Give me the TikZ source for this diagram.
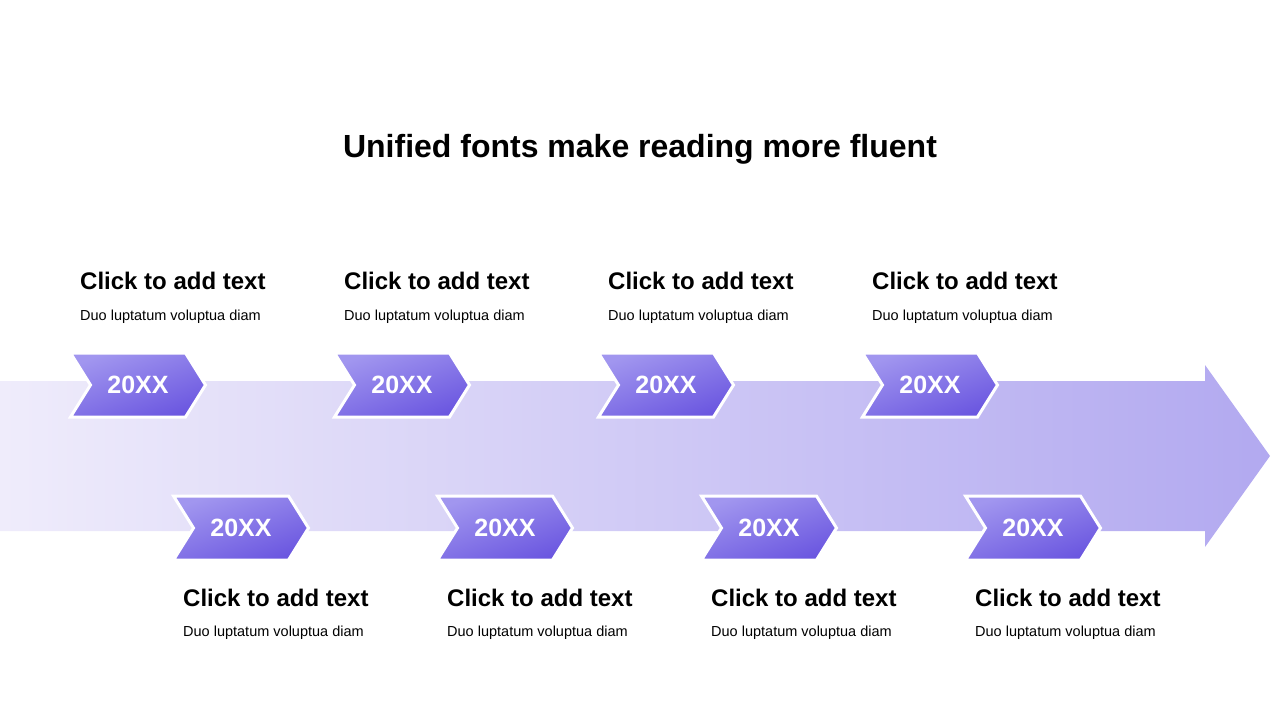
\documentclass[tikz,border=0pt]{standalone}
\usepackage{fontspec}
\setmainfont{Liberation Sans}
\usetikzlibrary{shapes.symbols}

\definecolor{arrowlight}{HTML}{EFECFB}
\definecolor{arrowdark}{HTML}{B2A9F0}
\definecolor{chevlight}{HTML}{A196EF}
\definecolor{chevdark}{HTML}{6B57E0}

\tikzset{
  yearbox/.style={signal, signal from=west, signal to=east, signal pointer angle=116,
    draw=white, line width=3pt, top color=chevlight, bottom color=chevdark, shading angle=20,
    minimum width=135pt, minimum height=64pt, inner sep=0pt, text=white,
    font=\fontsize{25}{30}\selectfont\bfseries},
  headtext/.style={anchor=base west, inner sep=0pt, font=\fontsize{24}{28}\selectfont\bfseries},
  subtext/.style={anchor=base west, inner sep=0pt, font=\fontsize{14.5}{17}\selectfont}
}

\begin{document}
\begin{tikzpicture}[x=1pt, y=-1pt]
    \useasboundingbox (0,0) rectangle (1280,720);

    % Title
    \node[anchor=base, font=\fontsize{32}{38}\selectfont\bfseries] (title) at (640,157) {Unified fonts make reading more fluent};

    % Main arrow
    \shade[left color=arrowlight, right color=arrowdark] (0,381) -- (1205,381) -- (1205,365) -- (1270,456) -- (1205,547) -- (1205,531) -- (0,531) -- cycle;

    % Upper years
    \node[yearbox] (year1) at (138,385) {20XX};
    \node[yearbox] (year3) at (402,385) {20XX};
    \node[yearbox] (year5) at (666,385) {20XX};
    \node[yearbox] (year7) at (930,385) {20XX};

    % Lower years
    \node[yearbox] (year2) at (241,528) {20XX};
    \node[yearbox] (year4) at (505,528) {20XX};
    \node[yearbox] (year6) at (769,528) {20XX};
    \node[yearbox] (year8) at (1033,528) {20XX};

    % Upper labels
    \node[headtext] (head1) at (80,289) {Click to add text};
    \node[subtext] (sub1) at (80,320) {Duo luptatum voluptua diam};
    \node[headtext] (head3) at (344,289) {Click to add text};
    \node[subtext] (sub3) at (344,320) {Duo luptatum voluptua diam};
    \node[headtext] (head5) at (608,289) {Click to add text};
    \node[subtext] (sub5) at (608,320) {Duo luptatum voluptua diam};
    \node[headtext] (head7) at (872,289) {Click to add text};
    \node[subtext] (sub7) at (872,320) {Duo luptatum voluptua diam};

    % Lower labels
    \node[headtext] (head2) at (183,606) {Click to add text};
    \node[subtext] (sub2) at (183,636) {Duo luptatum voluptua diam};
    \node[headtext] (head4) at (447,606) {Click to add text};
    \node[subtext] (sub4) at (447,636) {Duo luptatum voluptua diam};
    \node[headtext] (head6) at (711,606) {Click to add text};
    \node[subtext] (sub6) at (711,636) {Duo luptatum voluptua diam};
    \node[headtext] (head8) at (975,606) {Click to add text};
    \node[subtext] (sub8) at (975,636) {Duo luptatum voluptua diam};
\end{tikzpicture}
\end{document}
